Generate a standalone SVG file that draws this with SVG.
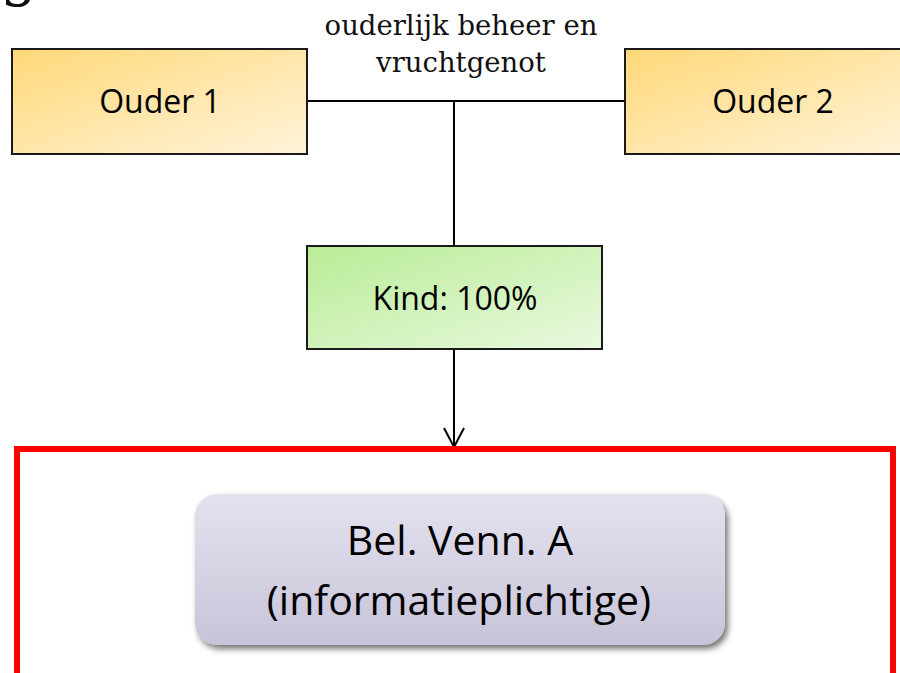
<svg xmlns="http://www.w3.org/2000/svg" width="900" height="673" viewBox="0 0 900 673">
  <style>
    .box { stroke: #1a1a1a; stroke-width: 2; }
    .lbl { font-family: "Open Sans", "Liberation Sans", sans-serif; fill: #000; text-anchor: middle; }
    .ser { font-family: "DejaVu Serif", "Liberation Serif", serif; fill: #111; text-anchor: middle; }
    .conn { stroke: #000; stroke-width: 2; fill: none; }
  </style>
  <defs>
    <linearGradient id="gOuder" x1="0" y1="0" x2="1" y2="1">
      <stop offset="0" stop-color="#ffd878"/>
      <stop offset="1" stop-color="#fff3da"/>
    </linearGradient>
    <linearGradient id="gKind" x1="0" y1="0" x2="1" y2="1">
      <stop offset="0" stop-color="#b9ec96"/>
      <stop offset="1" stop-color="#e9f9df"/>
    </linearGradient>
    <linearGradient id="gBel" x1="0" y1="0" x2="0" y2="1">
      <stop offset="0" stop-color="#e4e2ef"/>
      <stop offset="1" stop-color="#c7c4d9"/>
    </linearGradient>
    <filter id="shadow" x="-10%" y="-10%" width="130%" height="140%">
      <feGaussianBlur in="SourceAlpha" stdDeviation="3"/>
      <feOffset dx="3" dy="4" result="b"/>
      <feComponentTransfer><feFuncA type="linear" slope="0.55"/></feComponentTransfer>
      <feMerge><feMergeNode/><feMergeNode in="SourceGraphic"/></feMerge>
    </filter>
    <marker id="arrow" viewBox="0 0 22 22" refX="20" refY="11" markerWidth="22" markerHeight="22" markerUnits="userSpaceOnUse" orient="auto">
      <path d="M1,1 L20,11 L1,21" fill="none" stroke="#000" stroke-width="2"/>
    </marker>
  </defs>

  <text class="ser" x="0" y="-6" font-size="60" style="text-anchor:start">g</text>

  <g id="label-beheer">
    <text class="ser" x="461" y="35" font-size="27.5">ouderlijk beheer en</text>
    <text class="ser" x="461" y="72" font-size="27.5">vruchtgenot</text>
  </g>

  <g id="connectors">
    <line class="conn" x1="307" y1="101" x2="625" y2="101"/>
    <line class="conn" x1="454" y1="101" x2="454" y2="246"/>
    <line class="conn" x1="454" y1="349" x2="454" y2="447" marker-end="url(#arrow)"/>
  </g>

  <g id="ouder1">
    <rect class="box" x="12" y="49" width="295" height="105" fill="url(#gOuder)"/>
    <text class="lbl" x="160" y="113" font-size="32">Ouder 1</text>
  </g>

  <g id="ouder2">
    <rect class="box" x="625" y="49" width="290" height="105" fill="url(#gOuder)"/>
    <text class="lbl" x="773" y="113" font-size="32">Ouder 2</text>
  </g>

  <g id="kind">
    <rect class="box" x="307" y="246" width="295" height="103" fill="url(#gKind)"/>
    <text class="lbl" x="455" y="310" font-size="32">Kind: 100%</text>
  </g>

  <g id="kader">
    <rect x="17" y="449" width="876" height="300" fill="none" stroke="#ff0000" stroke-width="6"/>
  </g>

  <g id="belvenn">
    <rect x="195" y="494" width="530" height="151" rx="22" ry="22" fill="url(#gBel)" filter="url(#shadow)"/>
    <text class="lbl" x="460" y="555" font-size="41">Bel. Venn. A</text>
    <text class="lbl" x="459" y="615" font-size="41">(informatieplichtige)</text>
  </g>
</svg>
